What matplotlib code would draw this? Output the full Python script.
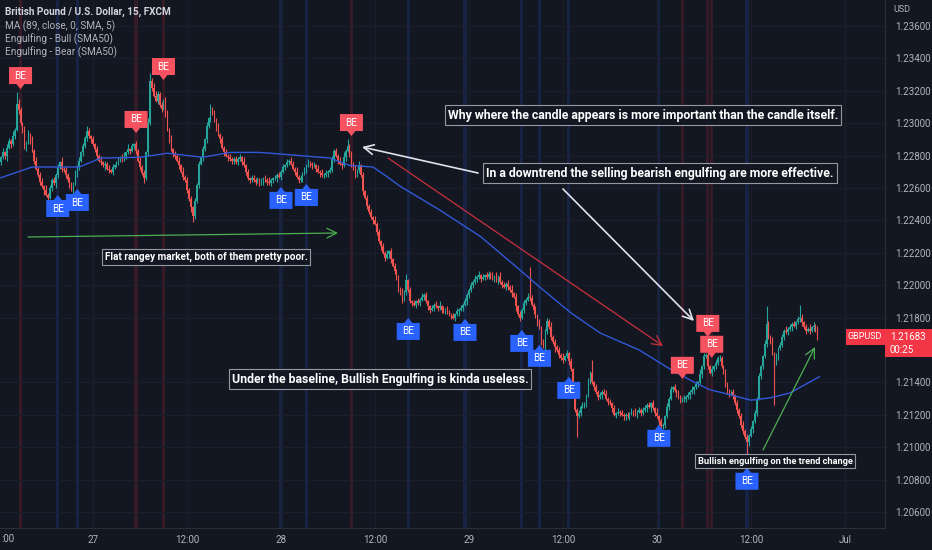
"""GBPUSD 15m chart with engulfing labels and trade notes, TradingView dark style."""

import matplotlib

matplotlib.use("Agg")

import matplotlib.pyplot as plt  # noqa: E402
import matplotlib.transforms as mtransforms  # noqa: E402
from matplotlib.patches import Polygon, Rectangle  # noqa: E402
import numpy as np  # noqa: E402

plt.rcParams["font.family"] = ["Roboto", "DejaVu Sans"]

# ---- data: prices in pips above 1.20000, one close per 15m bar ----
closes_txt = """
276 279 282 280 285 289 287 292 296 312
308 300 296 285 288 293 290 283 277 272
268 264 261 259 256 254 260 265 263 268
273 276 272 271 268 265 262 259 263 268
273 277 282 286 291 295 292 290 287 284
280 277 276 274 275 272 271 270 273 274
276 277 279 278 280 282 284 283 286 287
283 277 273 269 266 282 300 326 322 317
314 318 311 309 314 306 296 290 284 281
280 277 274 270 267 265 259 253 248 243
252 262 275 279 284 290 298 303 308 306
302 297 293 290 285 282 280 279 278 277
278 276 278 279 276 274 270 266 265 266
265 264 265 263 264 266 265 264 263 265
266 266 268 267 270 273 274 276 277 275
272 270 267 265 266 269 271 274 276 275
274 274 272 270 269 268 268 269 270 271
278 283 280 277 275 274 279 283 286 281
275 272 268 271 274 268 258 254 249 245
242 240 238 233 227 224 220 217 219 221
216 212 209 204 198 195 191 196 203 197
190 189 188 190 189 191 193 194 190 187
185 186 188 187 186 187 185 184 185 183
182 181 180 182 184 185 186 188 190 194
197 200 202 204 205 206 204 205 206 205
207 206 204 205 203 205 202 200 199 201
199 197 195 193 187 182 180 185 189 191
193 192 188 185 181 177 174 165 162 172
178 174 168 165 162 160 157 155 154 156
158 153 148 135 123 119 121 125 126 127
132 141 146 140 137 134 131 132 134 133
130 128 127 124 120 121 122 121 120 119
120 119 121 122 121 120 122 123 121 123
124 126 125 127 124 121 119 116 113 114
119 125 130 136 137 135 133 131 129 129
130 131 132 134 135 137 139 140 145 150
156 157 150 146 148 150 152 155 155 150
146 139 134 133 134 132 127 123 119 114
110 106 103 107 111 116 121 130 144 150
156 164 176 168 166 158 152 156 161 163
168 172 171 173 174 176 175 177 179 180
177 174 172 173 172 174 175 172 168.3
"""
first_open = 274

# wick lengths in pips above the body / below the body
wick_up_txt = (
    "2131221317" "3212131212" "1221312121" "2131212213" "1212132121"
    "2131212121" "1212213121" "2121213523" "3212122131" "2121312121"
    "2121213142" "2131212121" "1212131212" "2121212131" "1212121212"
    "2131212121" "1212131212" "2121213141" "2121312121" "2131212131"
    "2121213141" "2121212121" "1212131212" "2121212121" "1212131212"
    "2121313121" "2131212121" "2121212121" "2131212131" "2121312121"
    "1212121212" "2121212121" "1212131212" "2121213121" "1212121212"
    "2121312131" "2131212121" "1212121212" "2121212121" "1212121212"
    "2131212128" "212131213"
)
wick_dn_txt = (
    "1212312121" "2121213121" "1213121213" "2121212121" "1212121212"
    "2121312121" "1212121212" "2121312121" "1212121212" "2121212134"
    "2121212121" "1212121212" "2121212121" "1212121212" "2121212121"
    "1212121212" "2121212121" "1212121212" "2121212121" "1212121212"
    "2121212121" "1212121212" "2121212121" "1212131212" "2121212121"
    "1212121212" "2121312121" "1213121212" "2121312121" "1213121212"
    "2121212121" "1212121212" "2121212121" "1213121212" "2121212121"
    "1212121212" "2121212121" "1212121212" "2172121212" "2121212121"
    "1212121212" "212121212"
)
spike_high_bars = [271, 303, 392]
spike_high_pips = [211, 154, 187]
spike_low_bars = [295, 396]
spike_low_pips = [106, 126]

# MA (89)
ma_bars = [0, 17, 41, 52, 72, 86, 104, 118, 133, 149, 169, 179, 191, 197, 205,
           225, 246, 266, 276, 292, 307, 327, 343, 356, 363, 373, 384, 394, 404, 419]
ma_pips = [266, 273, 273, 278.5, 279, 281.5, 279, 282, 282, 280.5, 278.5, 274, 273, 268, 261,
           246.5, 230, 209.5, 199, 183, 170.5, 160, 148, 139.5, 135.5, 132.5, 129, 130.5, 133.5, 143.5]

# engulfing signals: bar and label anchor price
bull_be_bars = [30, 40, 144, 157, 209, 238, 267, 276, 291, 337, 382]
bull_be_pips = [255.7, 259.4, 260.7, 262.5, 179.8, 179.2, 172.4, 163.2, 143.4, 113.8, 87.3]
bear_be_bars = [11, 70, 84, 180, 349, 362, 364]
bear_be_pips = [321.1, 294, 326.7, 292.1, 142.2, 168.1, 155.2]

tick_bars = [48, 96, 144, 192, 240, 288, 336, 384, 432]
tick_labels = ["27", "12:00", "28", "12:00", "29", "12:00", "30", "12:00", "Jul"]
price_ticks = [1.206, 1.208, 1.210, 1.212, 1.214, 1.218, 1.220, 1.222, 1.224,
               1.226, 1.228, 1.230, 1.232, 1.234, 1.236]

BG = "#131722"
UP = "#26a69a"
DOWN = "#ef5350"
TXT = "#b2b5be"
W, H = 932, 550


def pip(v):
    return 1.2 + np.asarray(v, dtype=float) / 10000.0


close = pip([float(t) for t in closes_txt.split()])
n = len(close)
opn = np.concatenate([[pip(first_open)], close[:-1]])
wu = np.array([int(c) for c in wick_up_txt]) / 10000.0
wd = np.array([int(c) for c in wick_dn_txt]) / 10000.0
high = np.maximum(opn, close) + wu[:n]
low = np.minimum(opn, close) - wd[:n]
high[spike_high_bars] = pip(spike_high_pips)
low[spike_low_bars] = pip(spike_low_pips)
bars = np.arange(n)

fig = plt.figure(figsize=(W / 100, H / 100), dpi=100, facecolor=BG)
ax = fig.add_axes([0, 22 / H, 885 / W, 528 / H], facecolor=BG)
ax.set_xlim(0.51, 452.5)
ax.set_ylim(1.20501, 1.23761)


def px(x, y):
    """figure pixel (from top-left) -> data coords"""
    return ax.transData.inverted().transform((x, H - y))


# signal background stripes
for b in bull_be_bars:
    ax.axvspan(b - 0.8, b + 0.8, color="#2962ff", alpha=0.16, lw=0, zorder=0)
for b in bear_be_bars:
    ax.axvspan(b - 0.8, b + 0.8, color="#f23645", alpha=0.16, lw=0, zorder=0)

# candles
colors = np.where(close >= opn, UP, DOWN)
ax.vlines(bars, low, high, colors=colors, lw=0.8, zorder=2)
body = np.maximum(np.abs(close - opn), 0.00003)
ax.bar(bars, body, bottom=np.minimum(opn, close), width=0.8, color=colors, lw=0, zorder=3)

ax.plot(ma_bars, pip(ma_pips), color="#3158d6", lw=1.0, zorder=4)


# BE labels
def be_label(b, p, up):
    tr = fig.dpi_scale_trans + mtransforms.ScaledTranslation(b, p, ax.transData)
    s = -1 if up else 1
    pts = np.array([(0, 0), (4, 5 * s), (11.5, 5 * s), (11.5, 22 * s), (-11.5, 22 * s), (-11.5, 5 * s), (-4, 5 * s)]) / 100.0
    ax.add_patch(Polygon(pts, closed=True, transform=tr, fc="#2962ff" if up else "#f7525f", ec="none", zorder=6))
    ax.text(0, 13.5 * s / 100.0, "BE", transform=tr, ha="center", va="center", color="white", fontsize=7.2, zorder=7)


for b, p in zip(bull_be_bars, pip(bull_be_pips)):
    be_label(b, p, True)
for b, p in zip(bear_be_bars, pip(bear_be_pips)):
    be_label(b, p, False)


# drawings
def arrow(x0, y0, x1, y1, color, lw):
    ax.annotate("", xy=px(x1, y1), xytext=px(x0, y0), zorder=8,
                arrowprops=dict(arrowstyle="->,head_length=0.7,head_width=0.35", color=color, lw=lw,
                                shrinkA=0, shrinkB=0))


def note(x, y, s, size):
    d = px(x, y)
    ax.text(d[0], d[1], s, ha="center", va="center", color="white", fontsize=size, fontweight="bold", zorder=9,
            bbox=dict(boxstyle="square,pad=0.25", fc=BG, ec="#9598a1", lw=0.8))


arrow(28, 237, 338, 233, "#4caf50", 0.9)
arrow(478, 173, 362, 147, "#e0e3eb", 1.2)
arrow(563, 189, 694, 321, "#e0e3eb", 1.2)
arrow(388, 158, 663, 346, "#c9303c", 0.9)
arrow(763, 450, 815, 347, "#4caf50", 0.9)
note(206, 257, "Flat rangey market, both of them pretty poor.", 7.2)
note(643, 115, "Why where the candle appears is more important than the candle itself.", 8.8)
note(660, 173, "In a downtrend the selling bearish engulfing are more effective.", 8.8)
note(380, 379, "Under the baseline, Bullish Engulfing is kinda useless.", 8.8)
note(775, 461, "Bullish engulfing on the trend change", 6.7)

# axes styling
ax.grid(color="#1c202c", lw=0.7, zorder=-1)
ax.set_axisbelow(True)
for side in ("top", "left"):
    ax.spines[side].set_visible(False)
for side in ("right", "bottom"):
    ax.spines[side].set_color("#2a2e39")
ax.yaxis.tick_right()
ax.set_yticks(price_ticks)
ax.set_yticklabels([f"{v:.5f}" for v in price_ticks])
ax.set_xticks(tick_bars)
ax.set_xticklabels(tick_labels)
ax.tick_params(axis="both", length=0, colors=TXT, labelsize=7)
ax.tick_params(axis="y", pad=7)
ax.tick_params(axis="x", pad=5)
# half-visible "12:00" at the left edge shows only ":00"
fig.text(1 / W, 1 - 539 / H, ":00", color=TXT, fontsize=7, ha="left", va="center")

# legend block
fig.text(5 / W, 1 - 12 / H, "British Pound / U.S. Dollar, 15, FXCM", color="#d1d4dc", fontsize=7.2,
         fontweight="bold", va="center")
for k, s in enumerate(["MA (89, close, 0, SMA, 5)", "Engulfing - Bull (SMA50)", "Engulfing - Bear (SMA50)"]):
    fig.text(5 / W, 1 - (26 + 13 * k) / H, s, color=TXT, fontsize=7.2, va="center")
fig.text(893 / W, 1 - 10 / H, "USD", color=TXT, fontsize=6.5, va="center")

# last price tag
yd = ax.transData.transform((0, close[-1]))[1]
ident = mtransforms.IdentityTransform()
fig.add_artist(Rectangle((846, yd - 8), 39, 16, transform=ident, fc="#f23645", ec="none"))
fig.add_artist(Rectangle((885, yd - 20), 47, 28, transform=ident, fc="#f23645", ec="none"))
fig.text(865, yd, "GBPUSD", transform=ident, color="white", fontsize=6.5, ha="center", va="center")
fig.text(890, yd, f"{close[-1]:.5f}", transform=ident, color="white", fontsize=7, va="center")
fig.text(890, yd - 13, "00:25", transform=ident, color="white", fontsize=7, va="center")

fig.savefig("out.png", dpi=100, facecolor=BG)
